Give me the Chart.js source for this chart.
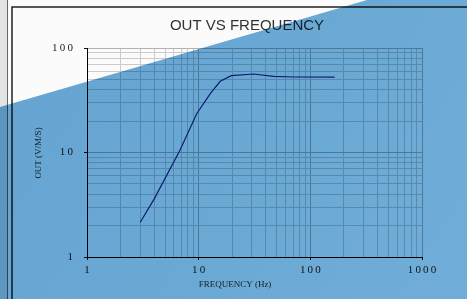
<!DOCTYPE html>
<html>
<head>
<meta charset="utf-8">
<script src="https://cdn.jsdelivr.net/npm/chart.js@4.4.1/dist/chart.umd.min.js"></script>
<style>
  html, body { margin: 0; padding: 0; background: #fbfbfb; }
  canvas { display: block; }
</style>
</head>
<body>
<canvas id="chart" width="467" height="299"></canvas>
<script>
//----- data -----//
const freqHz = [3, 4, 6.8, 9.6, 12.8, 15.6, 19.6, 31, 47, 71, 165];
const outVms = [2.15, 3.6, 10.5, 23.5, 37, 48, 54.3, 56.4, 53.6, 52.8, 52.6];
const xTickLabels = ['1', '10', '100', '1000'];
const yTickLabels = ['1', '10', '100'];
const chartTitle = 'OUT VS FREQUENCY';
const xTitle = 'FREQUENCY (Hz)';
const yTitle = 'OUT (V/M/S)';

//----- helpers -----//
const serif = "'Liberation Serif', 'DejaVu Serif', serif";
function decadeTicks(maxExp){// 1,2,...9,10,20,... up to 10^maxExp
  let t = [];
  for(let e=0;e<maxExp;e++){
    for(let s=1;s<10;s++) t.push({value: s*Math.pow(10,e), major: s==1});
  }
  t.push({value: Math.pow(10,maxExp), major: true});
  return t;
}
function spaced(str){ return str.split('').join('\u2009'); }
function labelFor(list){
  return function(v){
    let e = Math.log10(v);
    if(Math.abs(e-Math.round(e))<1e-9 && list[Math.round(e)]!==undefined) return spaced(list[Math.round(e)]);
    return '';
  };
}
const gridColor = (ctx) => (ctx.tick && ctx.tick.major) ? '#b2b2b2' : '#cbcbcb';
const tickMarkColor = (ctx) => (ctx.tick && ctx.tick.major) ? '#111' : 'rgba(0,0,0,0)';

//----- frame, titles and blue overlay -----//
const decor = {
  id: 'decor',
  beforeDraw(chart){
    const c = chart.ctx;
    c.save();
    c.fillStyle = '#fbfbfb';
    c.fillRect(0,0,chart.width,chart.height);
    c.fillStyle = '#e3e3e3';
    c.fillRect(0,0,7,chart.height);
    c.strokeStyle = '#666'; c.lineWidth = 1;
    c.beginPath(); c.moveTo(7.5,0); c.lineTo(7.5,chart.height); c.stroke();
    c.strokeStyle = '#222'; c.lineWidth = 1.5;
    c.beginPath(); c.moveTo(12,chart.height); c.lineTo(12,7); c.lineTo(chart.width,7); c.stroke();
    c.restore();
  },
  afterDraw(chart){
    const c = chart.ctx;
    c.save();
    c.textAlign = 'center'; c.textBaseline = 'middle';
    c.fillStyle = '#333';
    c.font = "15px 'Liberation Sans', Arial, sans-serif";
    c.fillText(chartTitle, 247, 26);
    c.font = '9px ' + serif;
    c.fillText(xTitle, 235, 285);
    c.translate(39,153); c.rotate(-Math.PI/2);
    c.fillText(yTitle, 0, 0);
    c.restore();

    c.save();
    c.globalCompositeOperation = 'multiply';
    let g = c.createLinearGradient(0,0,chart.width,chart.height);
    g.addColorStop(0,'#66a6d4');
    g.addColorStop(1,'#72b0dc');
    c.fillStyle = g;
    c.beginPath();
    c.moveTo(0,107); c.lineTo(367,0); c.lineTo(chart.width,0);
    c.lineTo(chart.width,chart.height); c.lineTo(0,chart.height);
    c.closePath(); c.fill();
    c.restore();
  }
};

let points = [];
for(let i=0;i<freqHz.length;i++) points.push({x: freqHz[i], y: outVms[i]});

new Chart(document.getElementById('chart'), {
  type: 'line',
  data: {
    datasets: [{
      data: points,
      borderColor: '#1c2a86',
      borderWidth: 1.2,
      pointRadius: 0,
      tension: 0,
      fill: false
    }]
  },
  options: {
    responsive: false,
    animation: false,
    devicePixelRatio: 1,
    layout: { padding: { left: 0, right: 45, top: 48, bottom: 0 } },
    plugins: {
      legend: { display: false },
      tooltip: { enabled: false },
      title: { display: false }
    },
    scales: {
      x: {
        type: 'logarithmic',
        min: 1, max: 1000,
        afterBuildTicks: (s) => { s.ticks = decadeTicks(xTickLabels.length-1); },
        afterFit: (s) => { s.height = 42; },
        ticks: { autoSkip: false, maxRotation: 0, padding: 4, color: '#222',
                 font: { family: serif, size: 11 }, callback: labelFor(xTickLabels) },
        grid: { color: gridColor, tickColor: tickMarkColor, tickLength: 3, lineWidth: 1 },
        border: { color: '#000', width: 1 }
      },
      y: {
        type: 'logarithmic',
        min: 1, max: 100,
        afterBuildTicks: (s) => { s.ticks = decadeTicks(yTickLabels.length-1); },
        afterFit: (s) => { s.width = 87; },
        ticks: { autoSkip: false, padding: 11, color: '#222',
                 font: { family: serif, size: 11 }, callback: labelFor(yTickLabels) },
        grid: { color: gridColor, tickColor: tickMarkColor, tickLength: 3, lineWidth: 1 },
        border: { color: '#000', width: 1 }
      }
    }
  },
  plugins: [decor]
});
</script>
</body>
</html>
